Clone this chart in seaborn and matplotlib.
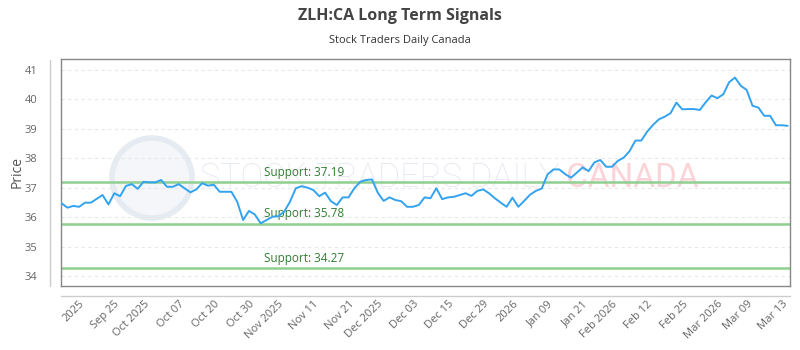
import matplotlib
matplotlib.use("Agg")
import matplotlib.pyplot as plt
import matplotlib.transforms as mtransforms
import seaborn as sns
import pandas as pd
import numpy as np
from matplotlib.lines import Line2D
from matplotlib.patches import Ellipse

prices = [36.47, 36.32, 36.38, 36.35, 36.49, 36.49, 36.62, 36.75, 36.43, 36.81,
          36.71, 37.06, 37.12, 36.96, 37.20, 37.18, 37.18, 37.26, 37.03, 37.03,
          37.12, 36.98, 36.84, 36.94, 37.15, 37.07, 37.10, 36.86, 36.86, 36.86,
          36.52, 35.90, 36.21, 36.09, 35.79, 35.90, 36.01, 36.03, 36.18, 36.52,
          36.98, 37.05, 37.00, 36.92, 36.71, 36.83, 36.54, 36.41, 36.67, 36.67,
          36.98, 37.20, 37.26, 37.28, 36.83, 36.55, 36.67, 36.58, 36.54, 36.35,
          36.35, 36.41, 36.67, 36.64, 36.98, 36.61, 36.67, 36.69, 36.75, 36.81,
          36.72, 36.89, 36.94, 36.81, 36.64, 36.49, 36.35, 36.66, 36.35, 36.55,
          36.76, 36.89, 36.97, 37.45, 37.62, 37.62, 37.46, 37.34, 37.51, 37.69,
          37.56, 37.86, 37.94, 37.71, 37.71, 37.91, 38.02, 38.24, 38.60, 38.60,
          38.90, 39.13, 39.32, 39.41, 39.53, 39.89, 39.66, 39.67, 39.67, 39.64,
          39.90, 40.13, 40.04, 40.17, 40.58, 40.74, 40.46, 40.32, 39.78, 39.72,
          39.44, 39.44, 39.12, 39.12, 39.10]

tick_labels = ["2025", "Sep 25", "Oct 2025", "Oct 07", "Oct 20", "Oct 30", "Nov 2025",
               "Nov 11", "Nov 21", "Dec 2025", "Dec 03", "Dec 15", "Dec 29", "2026",
               "Jan 09", "Jan 21", "Feb 2026", "Feb 12", "Feb 25", "Mar 2026",
               "Mar 09", "Mar 13"]
tick_idx = [3, 9, 14, 20, 26, 32, 37, 43, 49, 54, 60, 66, 72, 77, 83, 89, 94,
            100, 106, 112, 117, 123]

support_levels = [37.19, 35.78, 34.27]
support_labels = ["Support: 37.19", "Support: 35.78", "Support: 34.27"]

yticks = [34, 35, 36, 37, 38, 39, 40, 41]

df = pd.DataFrame({"idx": np.arange(len(prices)), "price": prices})

sns.set_theme(style="white")
plt.rcParams['font.family'] = ['Open Sans', 'DejaVu Sans']

fig = plt.figure(figsize=(8, 3.5), dpi=100)
ax = fig.add_axes([61/800, 1-286/350, (790-61)/800, (286-59)/350])

# watermark (behind the axes)
fig.text(200/800, 1-178/350, "STOCK TRADERS DAILY", fontsize=24.5,
         color="#e3e8ef", ha="left", va="center", zorder=-1,
         family=["Roboto", "DejaVu Sans"], fontweight="light")
fig.text(566/800, 1-178/350, "CANADA", fontsize=24,
         color="#fad4d8", ha="left", va="center", zorder=-1,
         family=["Roboto", "DejaVu Sans"])
circ = Ellipse((152/800, 1-178/350), 80/800, 80/350, transform=fig.transFigure,
               facecolor="#f4f6fa", edgecolor="#e6ebf2", lw=4, zorder=-1)
fig.patches.append(circ)

for yv in yticks:
    ax.axhline(yv, color="#e8e8e8", lw=0.8, ls=(0, (3, 3)), zorder=1)

lab_trans = mtransforms.blended_transform_factory(fig.transFigure, ax.transData)
for lvl, lab in zip(support_levels, support_labels):
    ax.axhline(lvl, color="#8fcf8f", lw=1.8, zorder=2)
    ax.text(264/800, lvl + 0.12, lab, transform=lab_trans,
            fontsize=8.5, color="#2f7d32", ha="left", va="bottom", zorder=3)

sns.lineplot(data=df, x="idx", y="price", ax=ax, color="#33a3f0", lw=1.4, zorder=4)

ax.set_xlim(-0.1, 124.4)
ax.set_ylim(33.66, 41.37)
ax.set_yticks(yticks)
ax.set_yticklabels([str(v) for v in yticks])
ax.set_xticks(tick_idx)
ax.set_xticklabels(tick_labels, rotation=45, ha="right", rotation_mode="anchor")
ax.tick_params(axis="y", length=0, pad=17, labelsize=8, labelcolor="#666666")
ax.tick_params(axis="x", length=0, pad=9, labelsize=8, labelcolor="#666666")
ax.set_xlabel("")
ax.set_ylabel("Price", fontsize=10, color="#555555", labelpad=0)
ax.patch.set_alpha(0)

for s in ax.spines.values():
    s.set_color("#888888")
    s.set_linewidth(1.0)

# outer axis lines
fig.add_artist(Line2D([50/800, 50/800], [1-60/350, 1-286/350],
                      transform=fig.transFigure, color="#cccccc", lw=1))
fig.add_artist(Line2D([61/800, 790/800], [1-296/350, 1-296/350],
                      transform=fig.transFigure, color="#cccccc", lw=1))

fig.text(0.5, 1-16/350, "ZLH:CA Long Term Signals", ha="center", va="center",
         fontsize=11.5, fontweight="bold", color="#444444")
fig.text(0.5, 1-40/350, "Stock Traders Daily Canada", ha="center", va="center",
         fontsize=8, color="#333333")

fig.savefig("out.png", dpi=100)
